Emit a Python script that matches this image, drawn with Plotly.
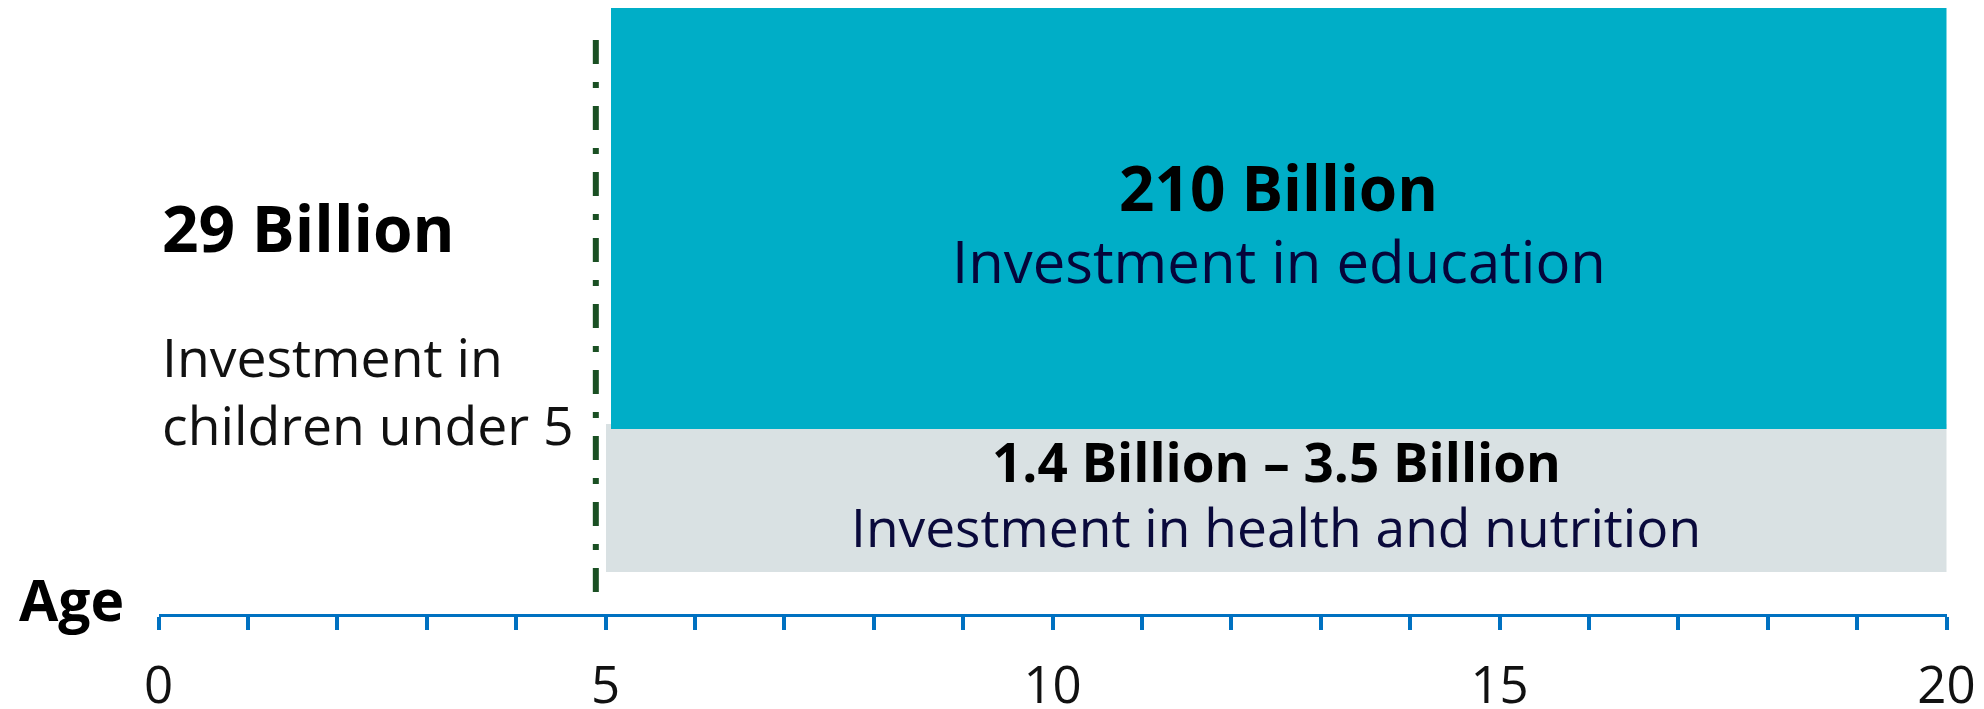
import plotly.graph_objects as go

# Age axis (years)
age_min, age_max = 0, 20
major_ticks = [0, 5, 10, 15, 20]

# Investment bands: age span and vertical extent (arbitrary height units, 0-100)
band_names = ["health", "education"]
band_age_start = [5.0, 5.06]
band_age_end = [20.0, 20.0]
band_low = [6.8, 30.1]
band_high = [30.9, 98.7]
band_colors = ["#d9e1e3", "#00aec7"]

# Boundary at age 5 (dash-dot marker)
boundary_age = 4.89
boundary_low, boundary_high = 3.6, 93.5

# Labels
edu_value, edu_desc = "210 Billion", "Investment in education"
health_value, health_desc = "1.4 Billion – 3.5 Billion", "Investment in health and nutrition"
early_value = "29 Billion"
early_desc = ["Investment in", "children under 5"]

FONT = "Open Sans"
BLUE = "#0071c1"

fig = go.Figure()

for name, x0, x1, lo, hi, col in zip(band_names, band_age_start, band_age_end,
                                     band_low, band_high, band_colors):
    fig.add_trace(go.Bar(
        x=[(x0 + x1) / 2], y=[hi - lo], base=[lo], width=[x1 - x0],
        marker=dict(color=col, line=dict(width=0)), name=name,
        hoverinfo="skip", showlegend=False,
    ))

fig.add_trace(go.Scatter(
    x=[boundary_age, boundary_age], y=[boundary_high, boundary_low],
    mode="lines", line=dict(color="#1a5023", width=6, dash="24px,18px,6px,18px"),
    hoverinfo="skip", showlegend=False,
))

edu_mid = (band_age_start[1] + band_age_end[1]) / 2
health_mid = (band_age_start[0] + band_age_end[0]) / 2


def label(x, y, text, size, color, bold=False, anchor="center"):
    fig.add_annotation(
        x=x, y=y, xref="x", yref="y", text=f"<b>{text}</b>" if bold else text,
        showarrow=False, xanchor=anchor, yanchor="middle",
        font=dict(family=FONT, size=size, color=color),
    )


label(edu_mid, 69.5, edu_value, 62, "#000000", bold=True)
label(edu_mid, 57.5, edu_desc, 58, "#05053a")
label(health_mid, 24.8, health_value, 53, "#000000", bold=True)
label(health_mid, 14.2, health_desc, 53.3, "#0a0a3c")
label(0.02, 63.0, early_value, 64, "#000000", bold=True, anchor="left")
label(0.02, 42.0, early_desc[0], 53.5, "#111111", anchor="left")
label(0.02, 30.8, early_desc[1], 53.5, "#111111", anchor="left")

fig.add_annotation(
    x=17 / 1984, y=2.5, xref="paper", yref="y", text="<b>Age</b>",
    showarrow=False, xanchor="left", yanchor="middle",
    font=dict(family=FONT, size=57, color="#000000"),
)

fig.update_layout(
    width=1984, height=709,
    margin=dict(l=0, r=0, t=0, b=0),
    paper_bgcolor="white", plot_bgcolor="white",
    barmode="overlay", bargap=0,
    xaxis=dict(
        domain=[158.7 / 1984, 1946.5 / 1984], range=[age_min, age_max],
        automargin=False,
        tickvals=major_ticks, ticktext=[str(t) for t in major_ticks],
        showline=True, linecolor=BLUE, linewidth=3,
        ticks="outside", ticklen=13, tickwidth=3.5, tickcolor=BLUE,
        minor=dict(dtick=1, ticks="outside", ticklen=13, tickwidth=3.5,
                   tickcolor=BLUE, showgrid=False),
        showgrid=False, zeroline=False,
        tickfont=dict(family=FONT, size=51, color="#111111"),
        ticklabelstandoff=12,
    ),
    yaxis=dict(
        domain=[(709 - 614) / 709, 1], range=[0, 100], automargin=False,
        visible=False, showgrid=False, zeroline=False,
    ),
)

fig.write_html("out.html")
